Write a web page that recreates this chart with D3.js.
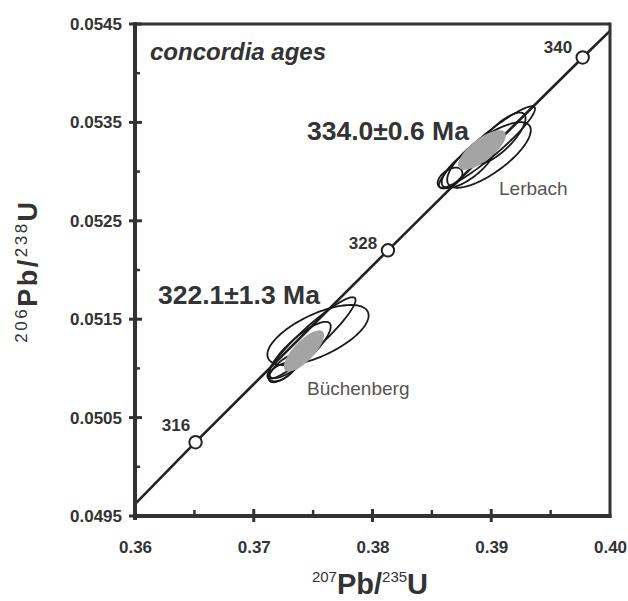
<!DOCTYPE html>
<html>
<head>
<meta charset="utf-8">
<script src="https://cdn.jsdelivr.net/npm/d3@7/dist/d3.min.js"></script>
<style>
  html, body { margin: 0; padding: 0; background: #fff; }
  svg { display: block; font-family: "Liberation Sans", Arial, sans-serif; }
</style>
</head>
<body>
<svg id="chart" width="628" height="601"></svg>
<script>
// ---- data ----
const xTicks = [0.36, 0.37, 0.38, 0.39, 0.40];
const xMinor = [0.365, 0.375, 0.385, 0.395];
const yTicks = [0.0495, 0.0505, 0.0515, 0.0525, 0.0535, 0.0545];
const yMinor = [0.0500, 0.0510, 0.0520, 0.0530, 0.0540];

const concordiaX = [0.36, 0.3651, 0.3813, 0.3977, 0.40];
const concordiaY = [0.04962, 0.05025, 0.05220, 0.05416, 0.05443];

const ages = [316, 328, 340];
const ageX = [0.3651, 0.3813, 0.3977];
const ageY = [0.05025, 0.05220, 0.05416];

// Büchenberg single analyses (x, y, half-extent x, half-extent y, correlation)
const buchX   = [0.37541, 0.37486, 0.37389, 0.37229, 0.37263];
const buchY   = [0.051339, 0.051309, 0.051187, 0.050963, 0.051004];
const buchSX  = [0.004263, 0.003711, 0.002592, 0.001063, 0.001361];
const buchSY  = [0.0003055, 0.000414, 0.0002868, 0.0000941, 0.0001447];
const buchRho = [0.650, 0.932, 0.833, 0.545, 0.719];
const buchConc = [0.37423, 0.051177, 0.001692, 0.0002096, 0.758];

// Lerbach single analyses
const lerX   = [0.38964, 0.38981, 0.39074, 0.386526, 0.388042];
const lerY   = [0.05325, 0.053169, 0.053341, 0.052935, 0.053057];
const lerSX  = [0.004045, 0.003522, 0.002147, 0.00104, 0.002213];
const lerSY  = [0.000414, 0.0003331, 0.000259, 0.0001054, 0.000222];
const lerRho = [0.937, 0.756, 0.778, 0.484, 0.743];
const lerConc = [0.389221, 0.05322, 0.002008, 0.0002016, 0.738];

const sampleNames = ["Lerbach", "Büchenberg"];
const concordiaAges = ["334.0±0.6 Ma", "322.1±1.3 Ma"];
const panelTitle = "concordia ages";

// ---- drawing ----
const svg = d3.select("#chart");
const ink = "#333";
const x = d3.scaleLinear().domain([0.36, 0.40]).range([135, 610]);
const y = d3.scaleLinear().domain([0.0495, 0.0545]).range([516, 24]);

function ellipsePts(cx, cy, sx, sy, rho) {
  const pts = [];
  const q = Math.sqrt(1 - rho * rho);
  for (let i = 0; i < 120; i++) {
    const t = i / 120 * 2 * Math.PI;
    pts.push([x(cx + sx * Math.cos(t)), y(cy + sy * (rho * Math.cos(t) + q * Math.sin(t)))]);
  }
  return pts;
}
const closed = d3.line().curve(d3.curveLinearClosed);

// concordia line
const line = d3.line().x(d => x(d[0])).y(d => y(d[1]));
svg.append("path")
  .attr("d", line(concordiaX.map((v, i) => [v, concordiaY[i]])))
  .attr("fill", "none").attr("stroke", "#222").attr("stroke-width", 2.6);

// open ellipses
const gE = svg.append("g");
function openEllipses(X, Y, SX, SY, R) {
  X.forEach((v, i) => {
    gE.append("path")
      .attr("d", closed(ellipsePts(v, Y[i], SX[i], SY[i], R[i])))
      .attr("fill", "none").attr("stroke", "#1a1a1a").attr("stroke-width", 1.8);
  });
}
openEllipses(buchX, buchY, buchSX, buchSY, buchRho);
openEllipses(lerX, lerY, lerSX, lerSY, lerRho);

// concordia age ellipses (grey)
[buchConc, lerConc].forEach(c => {
  gE.append("path")
    .attr("d", closed(ellipsePts(c[0], c[1], c[2], c[3], c[4])))
    .attr("fill", "#a4a4a4").attr("stroke", "none");
});

// age markers
svg.selectAll("circle.age").data(ages).enter().append("circle")
  .attr("cx", (d, i) => x(ageX[i])).attr("cy", (d, i) => y(ageY[i]))
  .attr("r", 6.2).attr("fill", "#fff").attr("stroke", "#222").attr("stroke-width", 2);

const ageLabelPos = [[176, 431], [363, 249], [558, 53]];
svg.selectAll("text.age").data(ages).enter().append("text")
  .attr("x", (d, i) => ageLabelPos[i][0]).attr("y", (d, i) => ageLabelPos[i][1])
  .attr("text-anchor", "middle").attr("font-size", 17).attr("font-weight", "bold")
  .attr("fill", ink).text(d => d);

// frame
svg.append("line").attr("x1", 135).attr("x2", 610).attr("y1", 24).attr("y2", 24)
  .attr("stroke", ink).attr("stroke-width", 3);
svg.append("line").attr("x1", 610).attr("x2", 610).attr("y1", 22.5).attr("y2", 518)
  .attr("stroke", ink).attr("stroke-width", 3);
svg.append("line").attr("x1", 135).attr("x2", 135).attr("y1", 22).attr("y2", 520)
  .attr("stroke", ink).attr("stroke-width", 4);
svg.append("line").attr("x1", 133).attr("x2", 611.5).attr("y1", 516).attr("y2", 516)
  .attr("stroke", ink).attr("stroke-width", 4);

// ticks
yTicks.forEach(v => svg.append("line").attr("x1", 129).attr("x2", 142)
  .attr("y1", y(v)).attr("y2", y(v)).attr("stroke", ink).attr("stroke-width", 3));
yMinor.forEach(v => svg.append("line").attr("x1", 135).attr("x2", 140)
  .attr("y1", y(v)).attr("y2", y(v)).attr("stroke", ink).attr("stroke-width", 2.5));
xTicks.slice(1, 4).forEach(v => svg.append("line").attr("y1", 509).attr("y2", 522)
  .attr("x1", x(v)).attr("x2", x(v)).attr("stroke", ink).attr("stroke-width", 3));
xMinor.forEach(v => svg.append("line").attr("y1", 510).attr("y2", 516)
  .attr("x1", x(v)).attr("x2", x(v)).attr("stroke", ink).attr("stroke-width", 2.5));

// axes labels via d3 axes
const ay = svg.append("g").attr("transform", "translate(135,0)")
  .call(d3.axisLeft(y).tickValues(yTicks).tickFormat(d3.format(".4f")).tickSize(0).tickPadding(13));
const ax = svg.append("g").attr("transform", "translate(0,516)")
  .call(d3.axisBottom(x).tickValues(xTicks).tickFormat(d3.format(".2f")).tickSize(0).tickPadding(25));
[ax, ay].forEach(g => {
  g.select(".domain").remove();
  g.selectAll("text").attr("font-size", 17).attr("font-weight", "bold")
    .attr("fill", ink).style("font-family", "'Liberation Sans', Arial, sans-serif");
});

// panel title
svg.append("text").attr("x", 150).attr("y", 60).attr("font-size", 24)
  .attr("font-weight", "bold").attr("font-style", "italic").attr("fill", ink).text(panelTitle);

// concordia age results
svg.append("text").attr("x", 307).attr("y", 140).attr("font-size", 26.5)
  .attr("font-weight", "bold").attr("fill", ink).text(concordiaAges[0]);
svg.append("text").attr("x", 158).attr("y", 304).attr("font-size", 26.5)
  .attr("font-weight", "bold").attr("fill", ink).text(concordiaAges[1]);

// sample names
svg.append("text").attr("x", 499).attr("y", 195).attr("font-size", 19)
  .attr("fill", "#555").text(sampleNames[0]);
svg.append("text").attr("x", 307).attr("y", 395).attr("font-size", 19)
  .attr("fill", "#555").text(sampleNames[1]);

// axis titles
function isoTitle(sel, parts, big, small, shift) {
  parts.forEach((p, i) => {
    sel.append("tspan").text(p[0])
      .attr("font-size", p[1] ? small : big)
      .attr("font-weight", p[1] ? "normal" : "bold")
      .attr("dy", i === 0 ? (p[1] ? -shift : 0) : (p[1] ? -shift : shift));
  });
}
const xt = svg.append("text").attr("x", 370).attr("y", 594)
  .attr("text-anchor", "middle").attr("fill", ink);
isoTitle(xt, [["207", 1], ["Pb/", 0], ["235", 1], ["U", 0]], 29, 15, 12);

const yt = svg.append("text").attr("transform", "translate(37,271) rotate(-90)")
  .attr("text-anchor", "middle").attr("fill", ink).style("letter-spacing", "2.5px");
isoTitle(yt, [["206", 1], ["Pb/", 0], ["238", 1], ["U", 0]], 27, 17, 10);
</script>
</body>
</html>
